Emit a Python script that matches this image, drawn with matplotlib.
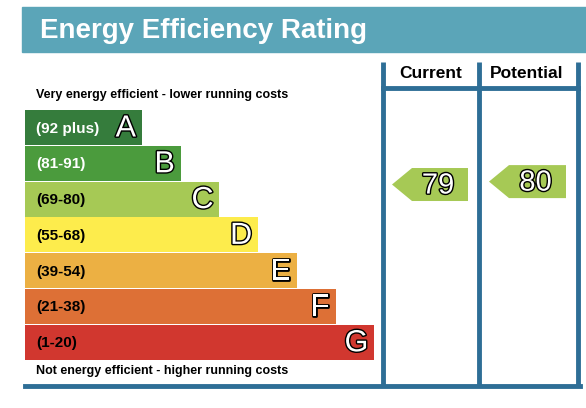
import matplotlib
matplotlib.use("Agg")
import matplotlib.pyplot as plt
import matplotlib.patheffects as pe
from matplotlib.patches import Rectangle, Polygon

# Rating bands
bands = ["A", "B", "C", "D", "E", "F", "G"]
ranges = ["(92 plus)", "(81-91)", "(69-80)", "(55-68)", "(39-54)", "(21-38)", "(1-20)"]
lows = [92, 81, 69, 55, 39, 21, 1]
highs = [100, 91, 80, 68, 54, 38, 20]
colors = ["#357c3c", "#4b9b3d", "#a6c955", "#fdec4c", "#ecb043", "#dd7036", "#d1372f"]
label_colors = ["white", "white", "black", "black", "black", "black", "black"]

current = 79
potential = 80

BLUE = "#2e6e96"
fig = plt.figure(figsize=(5.86, 4.08), dpi=100)
ax = fig.add_axes([0, 0, 1, 1])
ax.set_xlim(0, 586)
ax.set_ylim(408, 0)
ax.axis("off")

# header
ax.add_patch(Rectangle((22, 7), 564, 45, color="#5ba5b8"))
ax.text(40, 31, "Energy Efficiency Rating", color="white", fontsize=20,
        fontweight="bold", va="center", family="Liberation Sans")

outline = [pe.Stroke(linewidth=2, foreground="black"), pe.Normal()]

top, h, gap = 110, 35, 0.8
x0 = 25
for i, b in enumerate(bands):
    y = top + i * (h + gap)
    w = 117 + i * 38.7
    ax.add_patch(Rectangle((x0, y), w, h, color=colors[i], lw=0))
    ax.text(36, y + h / 2 + 1, ranges[i], color=label_colors[i], fontsize=11,
            fontweight="bold", va="center", family="Liberation Sans")
    ax.text(x0 + w - 6, y + h / 2 + 1, b, color="white", fontsize=22, ha="right",
            va="center", family="Liberation Sans", path_effects=outline)

ax.text(36, 95, "Very energy efficient - lower running costs", fontsize=9,
        fontweight="bold", va="center", family="Liberation Sans")
ax.text(36, 371, "Not energy efficient - higher running costs", fontsize=9,
        fontweight="bold", va="center", family="Liberation Sans")

# frame
for x in [383, 479, 578]:
    ax.plot([x, x], [62, 386], color=BLUE, lw=3.5, solid_capstyle="butt")
ax.plot([383, 578], [88, 88], color=BLUE, lw=3.5)
ax.plot([25, 580], [386, 386], color=BLUE, lw=3.5)
ax.text(431, 73, "Current", fontsize=12.5, fontweight="bold", ha="center", va="center",
        family="Liberation Sans")
ax.text(527, 73, "Potential", fontsize=12.5, fontweight="bold", ha="center", va="center",
        family="Liberation Sans")


def arrow(value, xl, xr):
    for i in range(len(bands)):
        if lows[i] <= value <= highs[i]:
            break
    y_top = top + i * (h + gap)
    yc = y_top + (highs[i] - value) / (highs[i] - lows[i] + 1) * h
    ah = 33
    pts = [(xl, yc), (xl + 20, yc - ah / 2), (xr, yc - ah / 2), (xr, yc + ah / 2), (xl + 20, yc + ah / 2)]
    ax.add_patch(Polygon(pts, color=colors[i], lw=0))
    ax.text((xl + xr) / 2 + 8, yc + 1, str(value), color="white", fontsize=21, ha="center",
            va="center", family="Liberation Sans", path_effects=outline)


arrow(current, 392, 468)
arrow(potential, 489, 566)

fig.savefig("out.png", dpi=100)
